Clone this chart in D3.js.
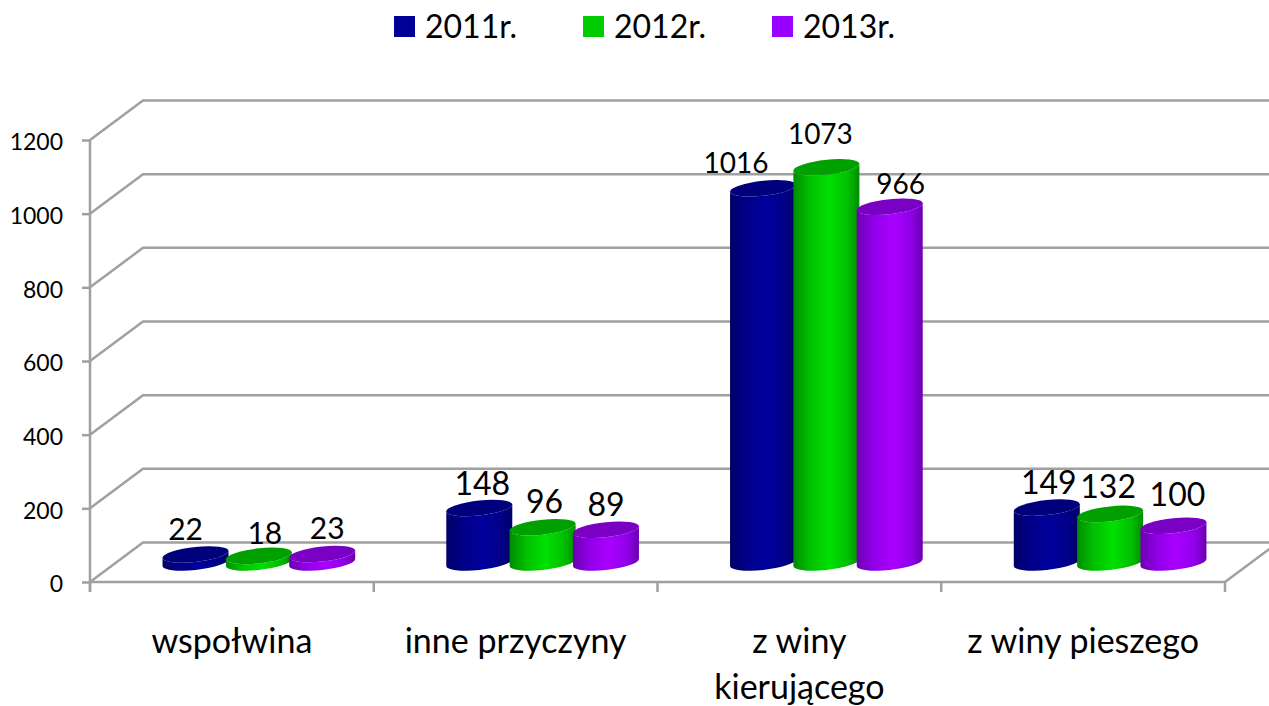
<!DOCTYPE html>
<html><head><meta charset="utf-8">
<script src="https://cdnjs.cloudflare.com/ajax/libs/d3/7.8.5/d3.min.js"></script>
<style>html,body{margin:0;padding:0;background:#fff;overflow:hidden}svg{display:block}text{font-family:Lato,"Open Sans",sans-serif;fill:#000}</style>
</head><body><svg id="c" width="1269" height="706"></svg>
<script>
const categories = ["wspołwina", "inne przyczyny", "z winy kierującego", "z winy pieszego"];
const seriesNames = ["2011r.", "2012r.", "2013r."];
const values2011 = [22, 148, 1016, 149];
const values2012 = [18, 96, 1073, 132];
const values2013 = [23, 89, 966, 100];
const yTicks = [0, 200, 400, 600, 800, 1000, 1200];
const seriesValues = [values2011, values2012, values2013];
const palette = [
  {main:"#00009e", mid:"#000088", edge:"#000068", top:"#00007c", flat:"#000096"},
  {main:"#00e000", mid:"#00c000", edge:"#008c00", top:"#00a000", flat:"#00cc00"},
  {main:"#aa00ff", mid:"#9000e8", edge:"#6c00b0", top:"#7a00c4", flat:"#9900ff"}
];
// layout-only label adjustments [dx, dy] per category, per series
const labelShift = [
  [[-10,0],[6,2],[5,-1]],
  [[3,0],[2,-1],[0,0]],
  [[-27,0],[-6,-8],[11,2]],
  [[2,0],[-2,-2],[4,-6]]
];
const labelSize = [30, 32, 28, 32];
const W=1269,H=706, left=90, right=1225, depthX=53, depthY=39.5;
const svg=d3.select("#c");
const x0=d3.scaleBand().domain(categories).range([left,right]);
const x1=d3.scaleBand().domain(seriesNames).range([-95,95]);
const y=d3.scaleLinear().domain([0,1200]).range([582,140]);
const grey="#a0a0a0";
// gradients
const defs=svg.append("defs");
palette.forEach((p,i)=>{
  const g=defs.append("linearGradient").attr("id","cyl"+i).attr("x1",0).attr("x2",1).attr("y1",0).attr("y2",0);
  [[0,p.edge],[0.25,p.mid],[0.55,p.main],[0.82,p.mid],[1,p.edge]].forEach(s=>g.append("stop").attr("offset",s[0]).attr("stop-color",s[1]));
});
// walls
const wall=svg.append("g").attr("fill","none").attr("stroke",grey).attr("stroke-width",2.5);
yTicks.forEach(t=>{
  wall.append("path").attr("d",d3.line()([[left,y(t)],[left+depthX,y(t)-depthY],[W,y(t)-depthY]]));
});
wall.append("path").attr("d",d3.line()([[right,y(0)],[right+depthX,y(0)-depthY]]));
// axes
const yAxis=svg.append("g").attr("transform",`translate(${left},0)`)
  .call(d3.axisLeft(y).tickValues(yTicks).tickFormat(d3.format("d")).tickSize(8).tickPadding(19).tickSizeOuter(0));
yAxis.selectAll("path,line").attr("stroke",grey).attr("stroke-width",2.5);
yAxis.select(".domain").attr("d",`M0,${y(1200)}V592`);
yAxis.selectAll("text").attr("font-size",23).attr("font-family","Lato").attr("dy","0.42em");
const xAxis=svg.append("g").attr("transform",`translate(0,${y(0)})`)
  .call(d3.axisBottom(x0).tickSize(0).tickFormat(""));
xAxis.selectAll(".tick").remove();
xAxis.select(".domain").attr("stroke",grey).attr("stroke-width",2.5).attr("d",`M${left},0H${right}`);
const bounds=categories.map(c=>x0(c)).concat([right]);
svg.append("g").selectAll("line").data(bounds).join("line")
  .attr("x1",d=>d).attr("x2",d=>d).attr("y1",y(0)).attr("y2",592).attr("stroke",grey).attr("stroke-width",2.5);
// category labels
const catLines=c=>c==="z winy kierującego"?["z winy","kierującego"]:[c];
categories.forEach(c=>{
  catLines(c).forEach((l,i)=>{
    svg.append("text").attr("x",x0(c)+x0.bandwidth()/2).attr("y",653+i*46)
      .attr("text-anchor","middle").attr("font-size",34).text(l);
  });
});
// cylinders
const rx=33, ry=7.5, shear=0.105, baseY=y(0)-19.5;
categories.forEach((c,ci)=>{
  const cg=x0(c)+x0.bandwidth()/2+27;
  seriesNames.forEach((s,si)=>{
    const v=seriesValues[si][ci];
    const cx=cg+x1(s)+x1.bandwidth()/2;
    const h=y(0)-y(v);
    const g=svg.append("g").attr("transform",`translate(${cx},${baseY}) matrix(1,${-shear},0,1,0,0)`);
    g.append("path").attr("fill",`url(#cyl${si})`)
      .attr("d",`M${-rx},${-h}V0A${rx},${ry} 0 0 0 ${rx},0V${-h}A${rx},${ry} 0 0 1 ${-rx},${-h}Z`);
    g.append("ellipse").attr("cx",0).attr("cy",-h).attr("rx",rx).attr("ry",ry).attr("fill",palette[si].top);
    const sh=labelShift[ci][si];
    svg.append("text").attr("x",cx+sh[0]).attr("y",baseY-h-25+sh[1]).attr("dy","0.36em")
      .attr("text-anchor","middle").attr("font-size",labelSize[ci]).text(v);
  });
});
// legend
const legendX=d3.scaleOrdinal().domain(seriesNames).range([394,583,772]);
seriesNames.forEach((s,i)=>{
  const lx=legendX(s);
  svg.append("rect").attr("x",lx).attr("y",16).attr("width",21).attr("height",21).attr("fill",palette[i].flat);
  svg.append("text").attr("x",lx+31).attr("y",38).attr("font-size",32).text(s);
});
</script></body></html>
